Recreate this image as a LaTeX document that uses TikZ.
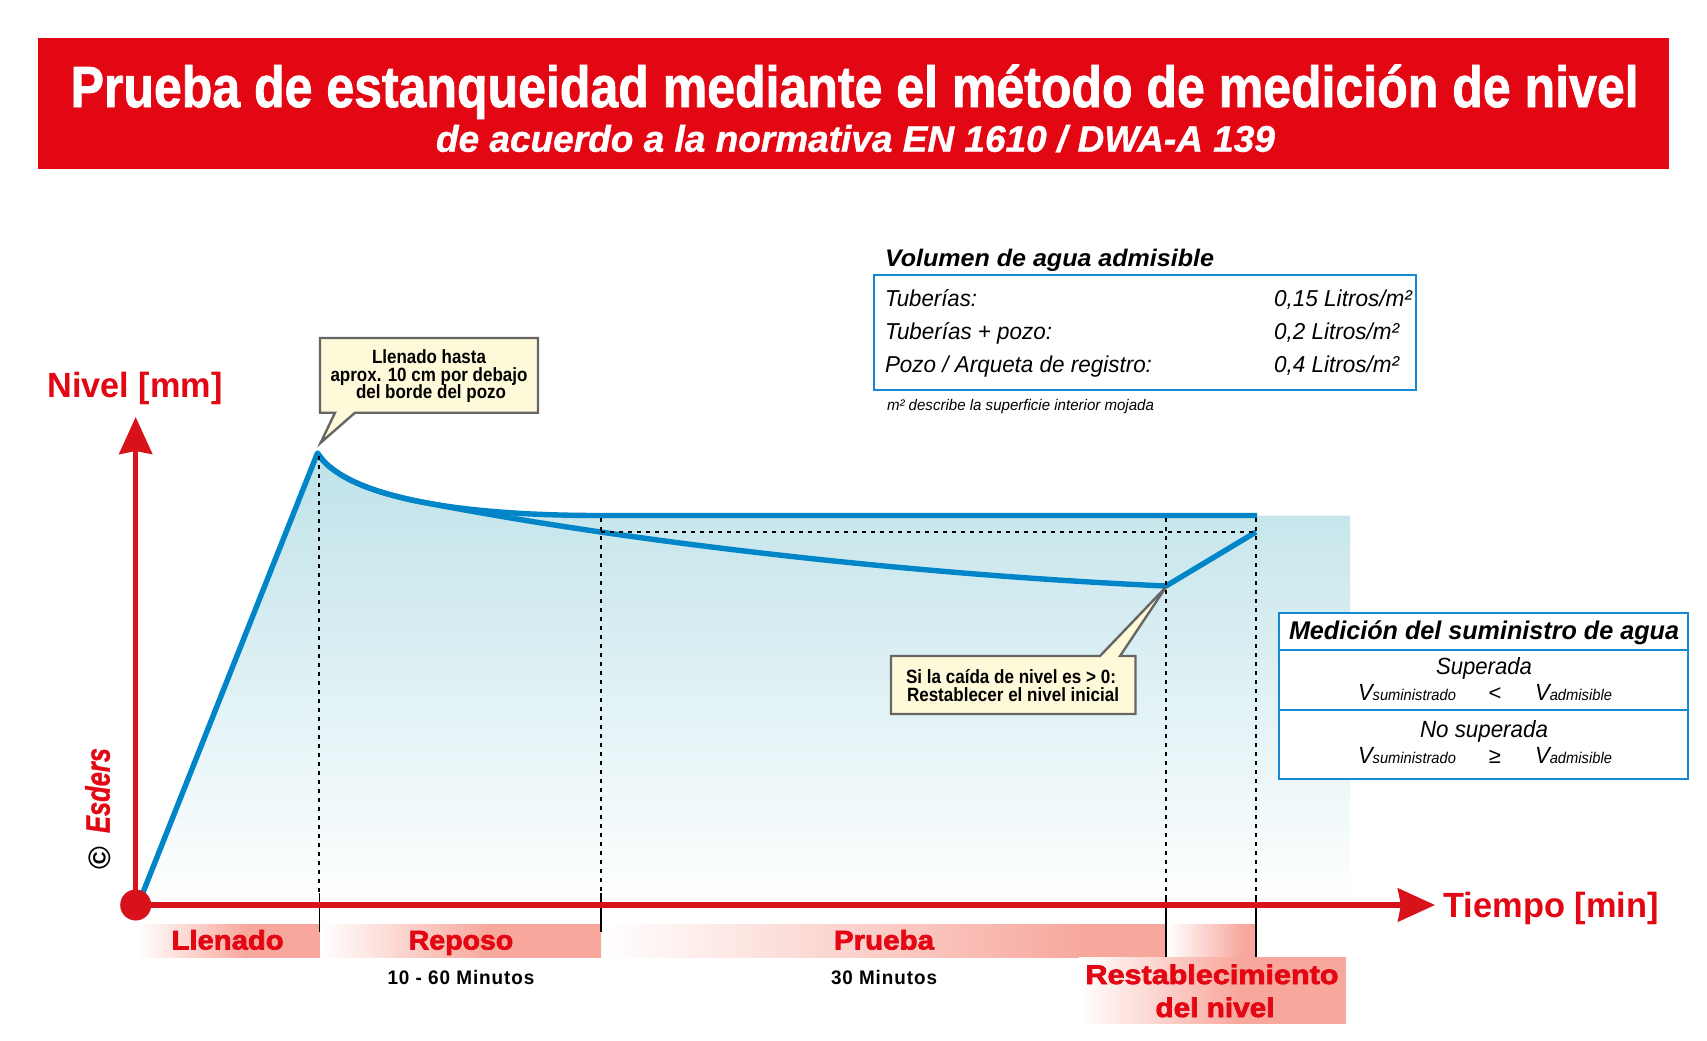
\documentclass[tikz,border=0pt]{standalone}
\usepackage{fontspec}
\usepackage{graphicx}
\usetikzlibrary{arrows.meta}
\setmainfont{Liberation Sans}
\newfontfamily\blk[FakeBold=2.5]{Liberation Sans Bold}
\newfontfamily\ttl[FakeBold=1.5]{Liberation Sans Bold}
\newfontfamily\spc[LetterSpace=5]{Liberation Sans Bold}
\newfontfamily\esd[FakeBold=1]{Liberation Sans Bold Italic}
\definecolor{bannerred}{HTML}{E30613}
\definecolor{axisred}{HTML}{D7121A}
\definecolor{lineblue}{HTML}{0085C9}
\definecolor{boxblue}{HTML}{1589D2}
\definecolor{fadeblue}{HTML}{BEE2E9}
\definecolor{salm}{HTML}{F7A79C}
\definecolor{noteyellow}{HTML}{FEFAD9}
\definecolor{notegrey}{HTML}{666666}
\pgfdeclarehorizontalshading{barfade}{100bp}{color(0bp)=(white); color(25bp)=(white); color(55bp)=(salm); color(100bp)=(salm)}
\pgfdeclarehorizontalshading{barfadelong}{100bp}{color(0bp)=(white); color(25bp)=(white); color(68bp)=(salm); color(100bp)=(salm)}
\newsavebox{\fitbox}
\newcommand{\fitw}[2]{\sbox{\fitbox}{#2}\pgfmathsetmacro{\fitr}{(#1)*0.5/\the\wd\fitbox}\scalebox{\fitr}[1]{\usebox{\fitbox}}}
\newcommand{\fs}[1]{\fontsize{#1}{#1}\selectfont}
\tikzset{
  txt/.style={inner sep=0pt,outer sep=0pt,anchor=base},
  txtw/.style={inner sep=0pt,outer sep=0pt,anchor=base west},
  redtxt/.style={txt,text=bannerred},
  barfill/.style={shading=barfade,draw=none},
  barlong/.style={shading=barfadelong,draw=none},
  curve/.style={draw=lineblue,line width=2.7pt,line join=round},
  drop/.style={draw=black,line width=0.85pt,dash pattern=on 2pt off 2.5pt},
  tick/.style={draw=black,line width=0.8pt},
  axis/.style={draw=axisred,line width=2.8pt,-{Stealth[length=18.5pt,width=16.5pt,inset=1.5pt]}},
  note/.style={draw=notegrey,fill=noteyellow,line width=1.2pt,line join=miter},
  panel/.style={draw=boxblue,line width=0.9pt,fill=white},
}
\begin{document}
\begin{tikzpicture}[x=0.5pt,y=-0.5pt]
\useasboundingbox (0,0) rectangle (1707,1040);
\fill[white] (0,0) rectangle (1707,1040);
% banner
\fill[bannerred] (38,37.5) rectangle (1669,169);
\node[txt,text=white] (title) at (854.6,107) {\fitw{1568}{\ttl\fs{29}Prueba de estanqueidad mediante el método de medición de nivel}};
\node[txt,text=white] (subtitle) at (855.5,151.7) {\fitw{839}{\esd\fs{18.5}de acuerdo a la normativa EN 1610 / DWA-A 139}};
% coordinates of the curves
\coordinate (start) at (138,905);
\coordinate (peak) at (317.5,453);
\coordinate (flat) at (600,515.5);
\coordinate (flatend) at (1257,515.5);
\coordinate (mid) at (428.7,503.3);
\coordinate (low) at (1166,586);
\coordinate (refill) at (1256,532);
% gradient area
\shade[top color=fadeblue,bottom color=white]
  (start) -- (peak) .. controls (338,487) and (420,515.5) .. (flat) -- (1350,515.5) -- (1350,905) -- cycle;
% blue curves
\draw[curve] (start) -- (peak) .. controls (338,487) and (420,515.5) .. (flat) -- (flatend);
\draw[curve] (peak) .. controls (329.8,473.4) and (364.2,491.8) .. (mid) .. controls (620,540) and (900,574) .. (low) -- (refill);
% drop lines
\draw[drop] (319,456) -- (319,893);
\draw[drop] (601,518) -- (601,893);
\draw[drop] (1166,518) -- (1166,893);
\draw[drop] (1256,518) -- (1256,893);
\draw[drop] (601,532) -- (1256,532);
% bars
\fill[barfill] (138,924) rectangle (319.5,957);
\fill[barfill] (320,924) rectangle (601,957);
\fill[barlong] (602,924) rectangle (1167,957);
\fill[barlong] (1167,924) rectangle (1256,957);
\fill[barfill] (1079,957) rectangle (1346,1023);
% ticks
\draw[tick] (319.5,893) -- (319.5,932);
\draw[tick] (601,893) -- (601,932);
\draw[tick] (1166,895) -- (1166,957);
\draw[tick] (1256,895) -- (1256,957);
% axes
\node[circle,fill=axisred,draw=none,minimum size=15.5pt,inner sep=0pt] (origin) at (135.7,905) {};
\coordinate (ytip) at (135.7,417);
\coordinate (xtip) at (1435,905);
\draw[axis,line width=2.4pt] (origin.center) -- (ytip);
\draw[axis] (origin.center) -- (xtip);
% axis labels
\node[redtxt] (nivel) at (135,397.5) {\fitw{175}{\fs{17.5}\bfseries Nivel [mm]}};
\node[redtxt] (tiempo) at (1551,917) {\fitw{215}{\fs{17.5}\bfseries Tiempo [min]}};
% callouts
\draw[note] (320,338) -- (538,338) -- (538,412.7) -- (355,412.7) -- (320.7,442.7) -- (335,412.7) -- (320,412.7) -- cycle;
\node[txt] (n1a) at (429,363) {\fitw{114}{\fs{9.6}\bfseries Llenado hasta}};
\node[txt] (n1b) at (429,381) {\fitw{197}{\fs{9.6}\bfseries aprox. 10 cm por debajo}};
\node[txt] (n1c) at (431,398) {\fitw{150}{\fs{9.6}\bfseries del borde del pozo}};
\draw[note] (891,656) -- (1100,656) -- (1166,587) -- (1120,656) -- (1135.5,656) -- (1135.5,714) -- (891,714) -- cycle;
\node[txt] (n2a) at (1011,683) {\fitw{210}{\fs{9.6}\bfseries Si la caída de nivel es > 0:}};
\node[txt] (n2b) at (1013,701) {\fitw{212}{\fs{9.6}\bfseries Restablecer el nivel inicial}};
% permissible volume table
\node[txtw] (voltitle) at (885,266) {\fitw{329}{\fs{12}\bfseries\itshape Volumen de agua admisible}};
\draw[panel] (873.7,275) rectangle (1416,390);
\node[txtw] (r1a) at (885,306.7) {\fitw{92}{\fs{11.5}\itshape Tuberías:}};
\node[txtw] (r2a) at (885,339) {\fitw{167}{\fs{11.5}\itshape Tuberías + pozo:}};
\node[txtw] (r3a) at (885,372.7) {\fitw{267}{\fs{11.5}\itshape Pozo / Arqueta de registro:}};
\node[txtw] (r1b) at (1274,306.7) {\fitw{138}{\fs{11.5}\itshape 0,15 Litros/m²}};
\node[txtw] (r2b) at (1274,339) {\fitw{125}{\fs{11.5}\itshape 0,2 Litros/m²}};
\node[txtw] (r3b) at (1274,372.7) {\fitw{125}{\fs{11.5}\itshape 0,4 Litros/m²}};
\node[txtw] (foot) at (887,410) {\fitw{267}{\fs{7.7}\itshape m² describe la superficie interior mojada}};
% water supply table
\draw[panel] (1279,612.7) rectangle (1688,779);
\draw[panel] (1279,649.7) -- (1688,649.7);
\draw[panel] (1279,710) -- (1688,710);
\node[txt] (medtitle) at (1484,639) {\fitw{390}{\fs{12.8}\bfseries\itshape Medición del suministro de agua}};
\node[txt] (sup) at (1484,674) {\fitw{96}{\fs{11.7}\itshape Superada}};
\node[txtw] (v1a) at (1358,700) {\fitw{98}{\itshape\fs{11.7}V\fs{7.8}suministrado}};
\node[txt] (lt) at (1495,700) {\fs{11}<};
\node[txtw] (v1b) at (1535,700) {\fitw{77}{\itshape\fs{11.7}V\fs{7.8}admisible}};
\node[txt] (nosup) at (1484,737) {\fitw{128}{\fs{11.7}\itshape No superada}};
\node[txtw] (v2a) at (1358,763) {\fitw{98}{\itshape\fs{11.7}V\fs{7.8}suministrado}};
\node[txt] (ge) at (1495,763) {\fs{11}≥};
\node[txtw] (v2b) at (1535,763) {\fitw{77}{\itshape\fs{11.7}V\fs{7.8}admisible}};
% bar labels
\node[redtxt] (llen) at (227.6,949.5) {\fitw{112}{\blk\fs{13.5}Llenado}};
\node[redtxt] (rep) at (461,949.5) {\fitw{104.5}{\blk\fs{13.5}Reposo}};
\node[redtxt] (prue) at (884,949.5) {\fitw{100}{\blk\fs{13.5}Prueba}};
\node[redtxt] (rest) at (1212,984) {\fitw{253}{\blk\fs{13.5}Restablecimiento}};
\node[redtxt] (deln) at (1215,1017) {\fitw{119}{\blk\fs{13.5}del nivel}};
\node[txt] (t1) at (461,984) {\fitw{147}{\spc\fs{9.8}10 - 60 Minutos}};
\node[txt] (t2) at (884,984) {\fitw{106}{\spc\fs{9.8}30 Minutos}};
% copyright
\node[inner sep=0pt,rotate=90,text=bannerred] (esders) at (97.5,790.5) {\fitw{85}{\esd\fs{17}Esders}};
\node[inner sep=0pt,rotate=90] (copy) at (99.4,858) {\fs{15.5}\bfseries ©};
\end{tikzpicture}
\end{document}
